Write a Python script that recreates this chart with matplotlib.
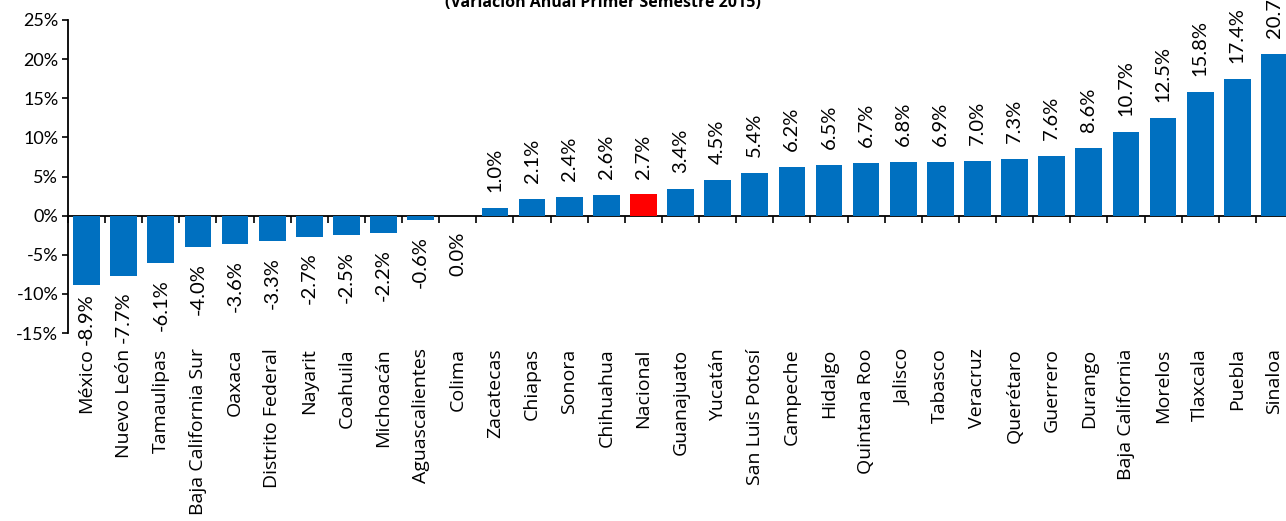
import matplotlib
matplotlib.use("Agg")
import matplotlib.pyplot as plt
from matplotlib.ticker import FuncFormatter
import numpy as np

states = ["México", "Nuevo León", "Tamaulipas", "Baja California Sur", "Oaxaca",
          "Distrito Federal", "Nayarit", "Coahuila", "Michoacán", "Aguascalientes",
          "Colima", "Zacatecas", "Chiapas", "Sonora", "Chihuahua", "Nacional",
          "Guanajuato", "Yucatán", "San Luis Potosí", "Campeche", "Hidalgo",
          "Quintana Roo", "Jalisco", "Tabasco", "Veracruz", "Querétaro", "Guerrero",
          "Durango", "Baja California", "Morelos", "Tlaxcala", "Puebla", "Sinaloa"]
values = [-8.9, -7.7, -6.1, -4.0, -3.6, -3.3, -2.7, -2.5, -2.2, -0.6, 0.0, 1.0, 2.1,
          2.4, 2.6, 2.7, 3.4, 4.5, 5.4, 6.2, 6.5, 6.7, 6.8, 6.9, 7.0, 7.3, 7.6, 8.6,
          10.7, 12.5, 15.8, 17.4, 20.7]
highlight = "Nacional"
title = "(Variación Anual Primer Semestre 2015)"

BLUE = "#0070C0"
RED = "#FF0000"
NUMFONT = "Lato"
LABFONT = "Open Sans"

W, H = 1286, 521
fig = plt.figure(figsize=(W / 100, H / 100), dpi=100)
left, right, top, bottom = 68, 1293, 20, 333
ax = fig.add_axes([left / W, 1 - bottom / H, (right - left) / W, (bottom - top) / H])

x = np.arange(len(states))
colors = [RED if s == highlight else BLUE for s in states]
ax.bar(x, values, width=0.72, color=colors, zorder=2)

ax.set_xlim(-0.5, len(states) - 0.5)
ax.set_ylim(-15, 25)
ax.set_yticks(np.arange(-15, 26, 5))
ax.yaxis.set_major_formatter(FuncFormatter(lambda v, p: f"{v:.0f}%"))
ax.tick_params(axis="y", direction="out", length=4, width=1.2, labelsize=13,
               pad=3, colors="black")
for lab in ax.get_yticklabels():
    lab.set_fontfamily(NUMFONT)

for s in ["top", "right", "bottom"]:
    ax.spines[s].set_visible(False)
ax.spines["left"].set_linewidth(1.3)

# Category labels at the bottom
ax.set_xticks(x)
ax.set_xticklabels(states, rotation=90, fontsize=14, fontfamily=LABFONT)
ax.tick_params(axis="x", length=0, pad=11)

# Zero axis with ticks between categories
sec = ax.secondary_xaxis(15 / 40)
sec.set_xticks(np.arange(-0.5, len(states), 1.0))
sec.set_xticklabels([])
sec.tick_params(axis="x", direction="out", length=5, width=1.2)
sec.spines["bottom"].set_linewidth(1.3)
sec.spines["top"].set_visible(False)

# Value labels
neg_labels = []
for xi, v in zip(x, values):
    if v > 0:
        ax.annotate(f"{v:.1f}%", (xi, v), xytext=(0, 11.5), textcoords="offset points",
                    rotation=90, ha="center", va="bottom", fontsize=14.5,
                    fontfamily=NUMFONT)
    else:
        a = ax.annotate(f"{v:.1f}%", (xi, v), xytext=(0, -11.5), textcoords="offset points",
                        rotation=90, ha="center", va="top", fontsize=14.5,
                        fontfamily=NUMFONT)
        neg_labels.append(a)

# keep negative labels from running into the category labels (as the original does)
fig.canvas.draw()
limit_px = H - 345  # display y (from bottom) the labels may reach
for a in neg_labels:
    bb = a.get_window_extent()
    if bb.y0 < limit_px:
        shift_pt = (limit_px - bb.y0) * 72 / fig.dpi
        a.xyann = (0, a.xyann[1] + shift_pt)

fig.text(603 / W, 1 - 11 / H, title, ha="center", va="bottom", fontsize=11.5,
         fontweight="bold", fontfamily=LABFONT)

fig.savefig("out.png", dpi=100)
